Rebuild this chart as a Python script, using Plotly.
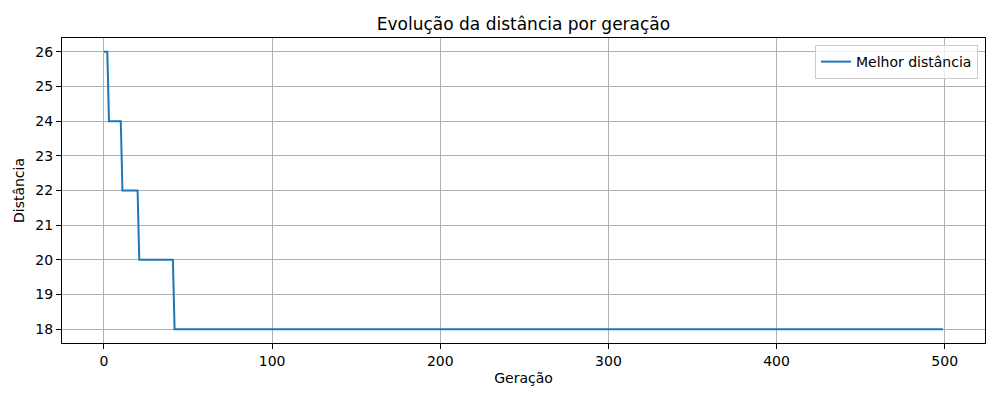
import plotly.graph_objects as go

# Step levels of best distance and the generation where each level starts
level_start_gen = [0, 3, 11, 21, 42]
level_distance = [26, 24, 22, 20, 18]
n_generations = 500

generations = list(range(n_generations))
best_distance = []
for g in generations:
    val = level_distance[0]
    for s, d in zip(level_start_gen, level_distance):
        if g >= s:
            val = d
    best_distance.append(val)

x_ticks = [0, 100, 200, 300, 400, 500]
y_ticks = [18, 19, 20, 21, 22, 23, 24, 25, 26]

font = "DejaVu Sans"
fig = go.Figure()
fig.add_trace(go.Scatter(
    x=generations, y=best_distance, mode="lines",
    name="Melhor distância",
    line=dict(color="#1f77b4", width=2),
))

axis_common = dict(
    showline=True, linecolor="black", linewidth=1.1, mirror=True,
    ticks="outside", ticklen=5, tickwidth=1.1, tickcolor="black",
    showgrid=True, gridcolor="#b0b0b0", gridwidth=1,
    zeroline=False,
    tickfont=dict(family=font, size=14, color="black"),
)

fig.update_layout(
    width=1000, height=400,
    margin=dict(l=62, r=15, t=38, b=57),
    plot_bgcolor="white", paper_bgcolor="white",
    title=dict(text="Evolução da distância por geração", x=0.5, xref="paper",
               xanchor="center", y=1 - 24 / 400, yanchor="middle",
               font=dict(family=font, size=17, color="black")),
    xaxis=dict(range=[-24.95, 523.95], tickvals=x_ticks,
               title=dict(text="Geração", font=dict(family=font, size=14, color="black"),
                          standoff=5),
               **axis_common),
    yaxis=dict(range=[17.6, 26.4], tickvals=y_ticks,
               title=dict(text="Distância", font=dict(family=font, size=14, color="black"),
                          standoff=7),
               **axis_common),
    legend=dict(x=0.9924, y=0.977, xanchor="right", yanchor="top", itemwidth=30,
                bgcolor="rgba(255,255,255,0.8)", bordercolor="#cccccc", borderwidth=1,
                font=dict(family=font, size=14, color="black")),
    showlegend=True,
)

fig.write_html("out.html")
